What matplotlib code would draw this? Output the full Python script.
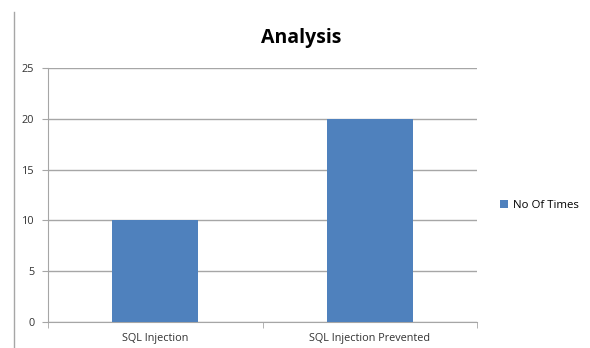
import matplotlib
matplotlib.use("Agg")
import matplotlib.pyplot as plt
from matplotlib.lines import Line2D

categories = ["SQL Injection", "SQL Injection Prevented"]
values = [10, 20]
series_name = "No Of Times"
yticks = [0, 5, 10, 15, 20, 25]

plt.rcParams["font.family"] = ["Open Sans", "DejaVu Sans"]

fig = plt.figure(figsize=(5.9, 3.48), dpi=100)
ax = fig.add_axes([0.0814, 0.0747, 0.7271, 0.7299])

x = range(len(categories))
ax.bar(x, values, width=0.4, color="#4F81BD", label=series_name, zorder=3)

ax.set_xlim(-0.5, len(categories) - 0.5)
ax.set_ylim(0, 25)
ax.set_yticks(yticks)
ax.yaxis.grid(True, color="#A6A6A6", linewidth=1.0, zorder=0)
ax.set_xticks(list(x))
ax.set_xticklabels(categories)
ax.set_xticks([-0.5, 0.5, 1.5], minor=True)
ax.tick_params(axis="x", which="major", length=0, labelsize=7.8, colors="#333333", pad=8)
ax.tick_params(axis="x", which="minor", length=4, color="#A6A6A6", direction="out")
ax.tick_params(axis="y", length=4, color="#A6A6A6", labelsize=7.8, labelcolor="#333333", pad=6)

for side in ["top", "right"]:
    ax.spines[side].set_visible(False)
for side in ["left", "bottom"]:
    ax.spines[side].set_color("#A6A6A6")

fig.text(0.51, 0.89, "Analysis", ha="center", va="center", fontsize=14, fontweight="bold")

ax.legend(loc="center left", bbox_to_anchor=(1.03, 0.46), frameon=False, fontsize=8.2,
          handlelength=0.7, handleheight=0.7, handletextpad=0.4)

fig.add_artist(Line2D([14 / 590, 14 / 590], [0, 1 - 12 / 348], color="#A6A6A6", linewidth=1.0))

fig.savefig("out.png", dpi=100)
